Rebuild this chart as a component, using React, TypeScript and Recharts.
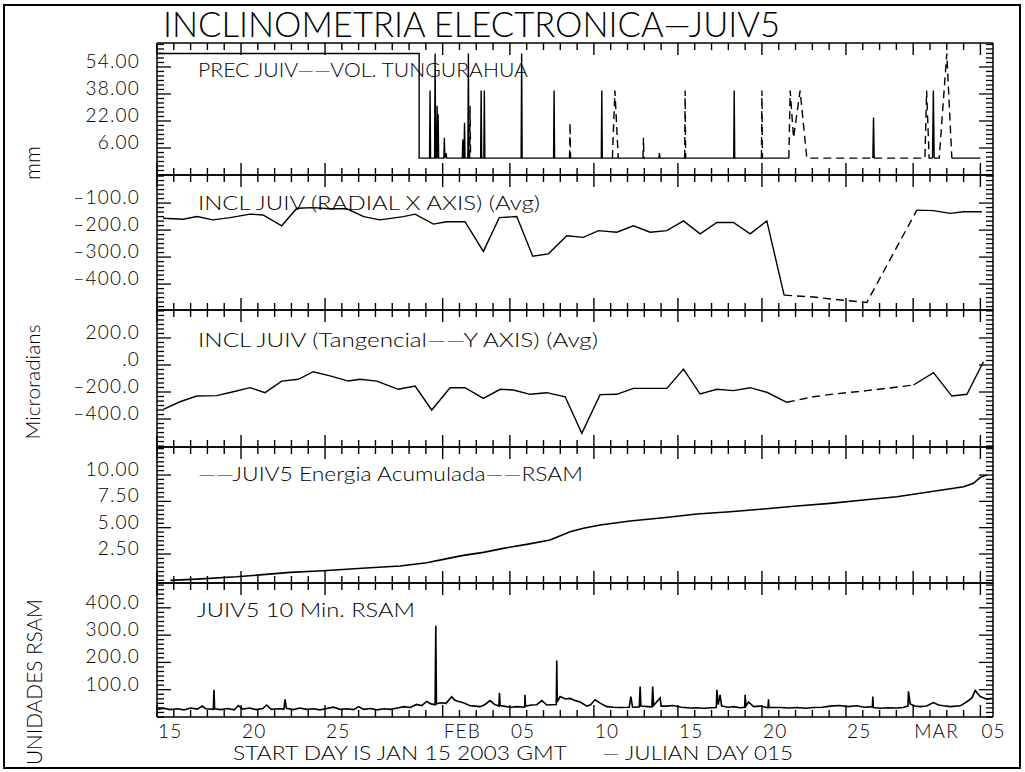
import React from "react";
import { LineChart, Line, XAxis, YAxis } from "recharts";

type Pt = [number, number | null];

const FONT = "Lato, 'DejaVu Sans', sans-serif";

// x axis: days since JAN 15 2003 00 GMT
const X_END = 49.75;
const dayTicks = Array.from({ length: 50 }, (_, i) => i);
const majorDays = [0, 5, 10, 17, 21, 26, 31, 36, 41, 45, 49];
const dayLabels = ["15", "20", "25", "FEB", "05", "10", "15", "20", "25", "MAR", "05"];

// PREC JUIV (mm)
const precTicks = [54, 38, 22, 6];
const precLabels = ["54.00", "38.00", "22.00", "6.00"];
const precSolid: Pt[] = [
  [0, 62], [15.6, 62], [15.6, 0],
  [16.22, 0], [16.25, 40], [16.28, 0],
  [16.52, 0], [16.55, 62], [16.58, 0],
  [16.64, 0], [16.67, 31], [16.7, 0], [16.73, 26], [16.76, 0],
  [17.07, 0], [17.1, 12], [17.13, 0], [17.2, 3], [17.24, 0],
  [18.17, 0], [18.2, 11], [18.23, 0], [18.27, 0], [18.3, 21], [18.33, 0],
  [18.5, 0], [18.53, 62], [18.56, 0],
  [19.26, 0], [19.29, 40], [19.32, 0],
  [19.45, 0], [19.48, 40], [19.51, 0],
  [21.67, 0], [21.7, 62], [21.73, 0],
  [23.6, 0], [23.63, 40], [23.66, 0],
  [26.44, 0], [26.47, 40], [26.5, 0],
  [29.87, 0], [29.9, 3], [29.93, 0],
  [34.32, 0], [34.35, 40], [34.38, 0],
  [37.6, 0], [37.6, null],
  [42.6, 0], [42.64, 24], [42.68, 0], [42.68, null],
  [46.15, 0], [46.2, 40], [46.25, 0], [46.25, null],
  [47.3, 0], [49.0, 0],
];
const precDashed: Pt[] = [
  [18.6, 0], [18.63, 31], [18.66, 0], [18.66, null],
  [24.55, 0], [24.58, 21], [24.61, 0], [24.61, null],
  [27.1, 0], [27.25, 40], [27.45, 0], [27.45, null],
  [28.92, 0], [28.95, 12], [28.98, 0], [28.98, null],
  [31.4, 0], [31.43, 40], [31.46, 0], [31.46, null],
  [35.97, 0], [36.0, 40], [36.03, 0], [36.03, null],
  [37.6, 0], [37.68, 40], [37.88, 12], [38.27, 40], [38.67, 0], [42.6, 0], [42.6, null],
  [42.68, 0], [45.7, 0], [45.8, 40], [45.95, 0], [46.15, 0], [46.15, null],
  [46.25, 0], [46.55, 0], [47.0, 62], [47.3, 0],
];

// INCL JUIV radial X (microradians)
const radTicks = [-100, -200, -300, -400];
const radLabels = ["–100.0", "–200.0", "–300.0", "–400.0"];
const radSolid: Pt[] = [
  [0.36, -156], [1.55, -160], [2.38, -150], [3.33, -162], [4.35, -154], [5.54, -141],
  [6.31, -144], [7.42, -184], [8.32, -119], [9.3, -117], [10.3, -121], [11.3, -121],
  [12.3, -150], [13.27, -162], [14.66, -150], [15.36, -141], [16.45, -178], [17.24, -169],
  [18.33, -169], [19.42, -279], [20.37, -154], [21.41, -150], [22.36, -297], [23.29, -288],
  [24.39, -221], [25.37, -227], [26.27, -202], [27.36, -208], [28.35, -184], [29.35, -208],
  [30.34, -202], [31.33, -166], [32.32, -214], [33.32, -172], [34.3, -172], [35.3, -214],
  [36.29, -166], [37.32, -441], [37.32, null],
  [45.22, -126], [46.21, -128], [47.2, -138], [48.0, -132], [49.09, -132],
];
const radDashed: Pt[] = [
  [37.32, -441], [39.07, -448], [40.24, -456], [42.24, -468], [45.22, -126],
];

// INCL JUIV tangencial Y (microradians)
const tanTicks = [200, 0, -200, -400];
const tanLabels = ["200.0", ".0", "–200.0", "–400.0"];
const tanSolid: Pt[] = [
  [0.38, -328], [1.37, -272], [2.36, -230], [3.55, -227], [4.54, -198], [5.54, -168],
  [6.43, -205], [7.42, -119], [8.41, -106], [9.3, -50], [10.3, -81], [11.39, -119],
  [12.08, -106], [13.08, -119], [14.36, -180], [15.36, -156], [16.35, -333], [17.44, -168],
  [18.33, -168], [19.42, -247], [20.42, -180], [21.21, -185], [22.2, -217], [23.2, -205],
  [24.29, -235], [25.28, -506], [26.37, -219], [27.36, -217], [28.35, -173], [29.35, -173],
  [30.34, -173], [31.33, -30], [32.32, -215], [33.32, -180], [34.3, -190], [35.3, -168],
  [36.29, -202], [37.48, -276], [37.48, null],
  [45.02, -148], [46.21, -57], [47.3, -230], [48.2, -217], [49.18, 24],
];
const tanDashed: Pt[] = [
  [37.48, -276], [39.07, -235], [40.26, -215], [42.24, -190], [44.23, -161], [45.02, -148],
];

// JUIV5 energia acumulada
const engTicks = [10, 7.5, 5, 2.5];
const engLabels = ["10.00", "7.50", "5.00", "2.50"];
const energy: Pt[] = [
  [0.8, 0.0], [2.36, 0.12], [4.74, 0.34], [7.92, 0.76], [9.88, 0.91], [12.68, 1.2],
  [14.46, 1.36], [16.05, 1.67], [17.04, 1.99], [18.23, 2.37], [19.42, 2.66], [20.61, 3.04],
  [22.0, 3.42], [23.39, 3.83], [24.58, 4.62], [25.38, 4.94], [26.37, 5.25], [28.15, 5.63],
  [30.14, 5.94], [32.13, 6.3], [34.11, 6.51], [36.09, 6.77], [38.08, 7.06], [40.06, 7.31],
  [42.04, 7.63], [44.03, 7.94], [46.01, 8.41], [48.0, 8.89], [48.59, 9.21], [48.99, 9.78],
  [49.39, 10.0],
];

// JUIV5 10 min RSAM
const rsamTicks = [400, 300, 200, 100];
const rsamLabels = ["400.0", "300.0", "200.0", "100.0"];
const rsam: Pt[] = [
  [0.0, 28], [0.4, 32], [0.8, 27], [1.2, 30], [1.6, 26], [2.0, 33], [2.4, 29], [2.7, 40],
  [2.9, 30], [3.35, 28], [3.39, 100], [3.43, 30], [3.8, 27], [4.2, 31], [4.6, 26], [4.84, 42],
  [5.1, 29], [5.5, 33], [5.9, 27], [6.3, 31], [6.52, 44], [6.8, 28], [7.2, 30], [7.55, 29],
  [7.62, 65], [7.7, 32], [8.1, 27], [8.5, 33], [8.9, 28], [9.3, 30], [9.7, 26], [10.1, 31],
  [10.5, 36], [10.9, 28], [11.3, 30], [11.7, 27], [12.0, 38], [12.3, 28], [12.7, 31],
  [13.1, 26], [13.5, 30], [13.9, 28], [14.3, 33], [14.7, 38], [15.06, 35], [15.45, 46],
  [15.75, 42], [16.05, 57], [16.3, 48], [16.55, 45], [16.59, 334], [16.63, 48], [16.85, 52],
  [17.2, 50], [17.54, 74], [17.7, 62], [17.9, 58], [18.23, 52], [18.6, 42], [18.9, 40],
  [19.23, 38], [19.5, 45], [19.82, 60], [20.1, 46], [20.35, 40], [20.38, 89], [20.42, 42],
  [20.8, 38], [21.1, 36], [21.41, 38], [21.88, 36], [21.9, 81], [21.93, 40], [22.3, 44],
  [22.6, 45], [22.9, 60], [23.2, 44], [23.5, 45], [23.76, 46], [23.79, 207], [23.82, 55],
  [23.99, 75], [24.3, 66], [24.58, 68], [24.9, 60], [25.18, 55], [25.58, 40], [25.8, 45],
  [26.07, 63], [26.4, 50], [26.77, 38], [27.17, 36], [27.6, 35], [28.1, 36], [28.2, 75],
  [28.3, 36], [28.7, 37], [28.75, 112], [28.8, 40], [29.2, 38], [29.45, 37], [29.5, 112],
  [29.55, 42], [29.94, 70], [30.0, 40], [30.3, 40], [30.73, 42], [31.2, 36], [31.73, 33],
  [32.1, 34], [32.52, 32], [33.28, 35], [33.32, 100], [33.4, 45], [33.51, 81], [33.6, 40],
  [34.0, 36], [34.31, 38], [34.7, 34], [34.97, 36], [35.0, 81], [35.05, 40], [35.2, 55],
  [35.5, 38], [35.89, 40], [36.36, 34], [36.39, 65], [36.42, 35], [37.08, 35], [37.6, 33],
  [38.1, 35], [38.6, 32], [39.07, 35], [39.6, 36], [40.06, 40], [40.6, 42], [41.1, 38],
  [41.65, 41], [42.1, 36], [42.57, 38], [42.6, 75], [42.63, 35], [43.04, 32], [43.5, 34],
  [44.0, 33], [44.4, 35], [44.69, 40], [44.72, 94], [44.82, 48], [45.1, 40], [45.42, 38],
  [45.8, 40], [46.21, 53], [46.5, 44], [46.8, 41], [47.2, 38], [47.8, 41], [48.19, 56],
  [48.5, 70], [48.69, 97], [48.85, 85], [48.99, 75], [49.2, 70], [49.39, 65], [49.68, 69],
];

const rows = (pts: Pt[]) => pts.map(([t, v]) => ({ t, v }));

const minorTicks = (major: number[], domain: [number, number]) => {
  const step = Math.abs(major[0] - major[1]) / 6;
  const out: number[] = [];
  let v = major[0] - Math.floor((major[0] - domain[0]) / step) * step;
  for (; v <= domain[1] + 1e-9; v += step) out.push(Math.round(v * 1000) / 1000);
  return out;
};

const isMajor = (major: number[], v: number) =>
  major.findIndex((m) => Math.abs(m - v) < 1e-3);

const T = { fontFamily: FONT, fontWeight: 300, fill: "#000" };

const makeXTick = (side: "top" | "bottom", showLabels: boolean) => (p: any) => {
  const idx = majorDays.indexOf(p.payload.value);
  const len = idx >= 0 ? 12 : 7;
  const dir = side === "top" ? 1 : -1;
  return (
    <g>
      <line x1={p.x} x2={p.x} y1={p.y} y2={p.y + dir * len} stroke="#000" strokeWidth={1.4} />
      {showLabels && idx >= 0 && (
        <text x={p.x + 1} y={p.y + 21} fontSize={19} letterSpacing={1.2} {...T}>
          {dayLabels[idx]}
        </text>
      )}
    </g>
  );
};

const makeYTick = (side: "left" | "right", major: number[], labels: string[]) => (p: any) => {
  const idx = isMajor(major, p.payload.value);
  const len = idx >= 0 ? 14 : 7;
  const dir = side === "left" ? 1 : -1;
  return (
    <g>
      <line x1={p.x} x2={p.x + dir * len} y1={p.y} y2={p.y} stroke="#000" strokeWidth={1.3} />
      {side === "left" && idx >= 0 && (
        <text x={p.x - 17} y={p.y + 1} textAnchor="end" fontSize={19} letterSpacing={1.2} {...T}>
          {labels[idx]}
        </text>
      )}
    </g>
  );
};

type Series = { pts: Pt[]; dashed?: boolean; width?: number };

type PanelProps = {
  top: number;
  bottom: number;
  domain: [number, number];
  major: number[];
  labels: string[];
  series: Series[];
  xLabels?: boolean;
};

const Panel = ({ top, bottom, domain, major, labels, series, xLabels }: PanelProps) => {
  const extra = xLabels ? 45 : 0;
  const h = bottom - top + 20 + extra;
  const yTicks = minorTicks(major, domain);
  return (
    <div style={{ position: "absolute", left: 0, top: top - 10 }}>
      <LineChart width={1025} height={h} margin={{ top: 5, bottom: 5 + extra, left: 147, right: 22 }}>
        <XAxis
          xAxisId="b" orientation="bottom" type="number" dataKey="t" domain={[0, X_END]}
          allowDataOverflow ticks={dayTicks} interval={0} height={5} tickSize={0} tickMargin={0}
          tickLine={false} tick={makeXTick("bottom", !!xLabels)} axisLine={{ stroke: "#000", strokeWidth: 1.5 }}
        />
        <XAxis
          xAxisId="t" orientation="top" type="number" dataKey="t" domain={[0, X_END]}
          allowDataOverflow ticks={dayTicks} interval={0} height={5} tickSize={0} tickMargin={0}
          tickLine={false} tick={makeXTick("top", false)} axisLine={{ stroke: "#000", strokeWidth: 1.5 }}
        />
        <YAxis
          yAxisId="l" orientation="left" type="number" domain={domain} allowDataOverflow
          ticks={yTicks} interval={0} width={10} tickSize={0} tickMargin={0} tickLine={false}
          tick={makeYTick("left", major, labels)} axisLine={{ stroke: "#000", strokeWidth: 1.5 }}
        />
        <YAxis
          yAxisId="r" orientation="right" type="number" domain={domain} allowDataOverflow
          ticks={yTicks} interval={0} width={10} tickSize={0} tickMargin={0} tickLine={false}
          tick={makeYTick("right", major, labels)} axisLine={{ stroke: "#000", strokeWidth: 1.5 }}
        />
        {series.map((s, i) => (
          <Line
            key={i}
            xAxisId="b"
            yAxisId="l"
            data={rows(s.pts)}
            dataKey="v"
            type="linear"
            dot={false}
            activeDot={false}
            connectNulls={false}
            isAnimationActive={false}
            stroke="#000"
            strokeWidth={s.width ?? 1.4}
            strokeDasharray={s.dashed ? "8 5" : undefined}
          />
        ))}
      </LineChart>
    </div>
  );
};

export default function App() {
  return (
    <div style={{ position: "absolute", left: 0, top: 0, width: 1025, height: 772, background: "#fff" }}>
      <Panel top={43} bottom={175} domain={[-10, 68.2]} major={precTicks} labels={precLabels}
        series={[{ pts: precSolid }, { pts: precDashed, dashed: true }]} />
      <Panel top={175} bottom={310} domain={[-496, 4]} major={radTicks} labels={radLabels}
        series={[{ pts: radSolid }, { pts: radDashed, dashed: true }]} />
      <Panel top={310} bottom={447} domain={[-607, 407]} major={tanTicks} labels={tanLabels}
        series={[{ pts: tanSolid }, { pts: tanDashed, dashed: true }]} />
      <Panel top={447} bottom={583} domain={[-0.25, 12.66]} major={engTicks} labels={engLabels}
        series={[{ pts: energy, width: 1.6 }]} />
      <Panel top={583} bottom={717} domain={[0, 491]} major={rsamTicks} labels={rsamLabels}
        series={[{ pts: rsam, width: 1.6 }]} xLabels />

      <svg width={1025} height={772} style={{ position: "absolute", left: 0, top: 0, pointerEvents: "none" }}>
        <rect x={4} y={5} width={1016} height={763} fill="none" stroke="#000" strokeWidth={2} />
        <text x={163} y={37} fontSize={35} textLength={617} lengthAdjust="spacingAndGlyphs" {...T}>
          INCLINOMETRIA ELECTRONICA—JUIV5
        </text>
        <text x={198} y={77} fontSize={20} textLength={330} lengthAdjust="spacingAndGlyphs" {...T}>
          PREC JUIV——VOL. TUNGURAHUA
        </text>
        <text x={198} y={210} fontSize={20} textLength={342} lengthAdjust="spacingAndGlyphs" {...T}>
          INCL  JUIV (RADIAL X AXIS) (Avg)
        </text>
        <text x={198} y={347} fontSize={20} textLength={400} lengthAdjust="spacingAndGlyphs" {...T}>
          INCL JUIV (Tangencial——Y AXIS) (Avg)
        </text>
        <text x={198} y={481} fontSize={20} textLength={385} lengthAdjust="spacingAndGlyphs" {...T}>
          ——JUIV5 Energia Acumulada——RSAM
        </text>
        <text x={197} y={617} fontSize={20} textLength={218} lengthAdjust="spacingAndGlyphs" {...T}>
          JUIV5  10 Min. RSAM
        </text>
        <text x={233} y={760} fontSize={19} textLength={334} lengthAdjust="spacingAndGlyphs" {...T}>
          START DAY IS JAN 15 2003 GMT
        </text>
        <text x={602} y={760} fontSize={19} textLength={191} lengthAdjust="spacingAndGlyphs" {...T}>
          — JULIAN DAY 015
        </text>
        <text transform="translate(40,163) rotate(-90)" textAnchor="middle" fontSize={21} {...T}>
          mm
        </text>
        <text transform="translate(40,382) rotate(-90)" textAnchor="middle" fontSize={20}
          textLength={115} lengthAdjust="spacingAndGlyphs" {...T}>
          Microradians
        </text>
        <text transform="translate(42,682) rotate(-90)" textAnchor="middle" fontSize={22}
          textLength={166} lengthAdjust="spacingAndGlyphs" {...T}>
          UNIDADES RSAM
        </text>
      </svg>
    </div>
  );
}
